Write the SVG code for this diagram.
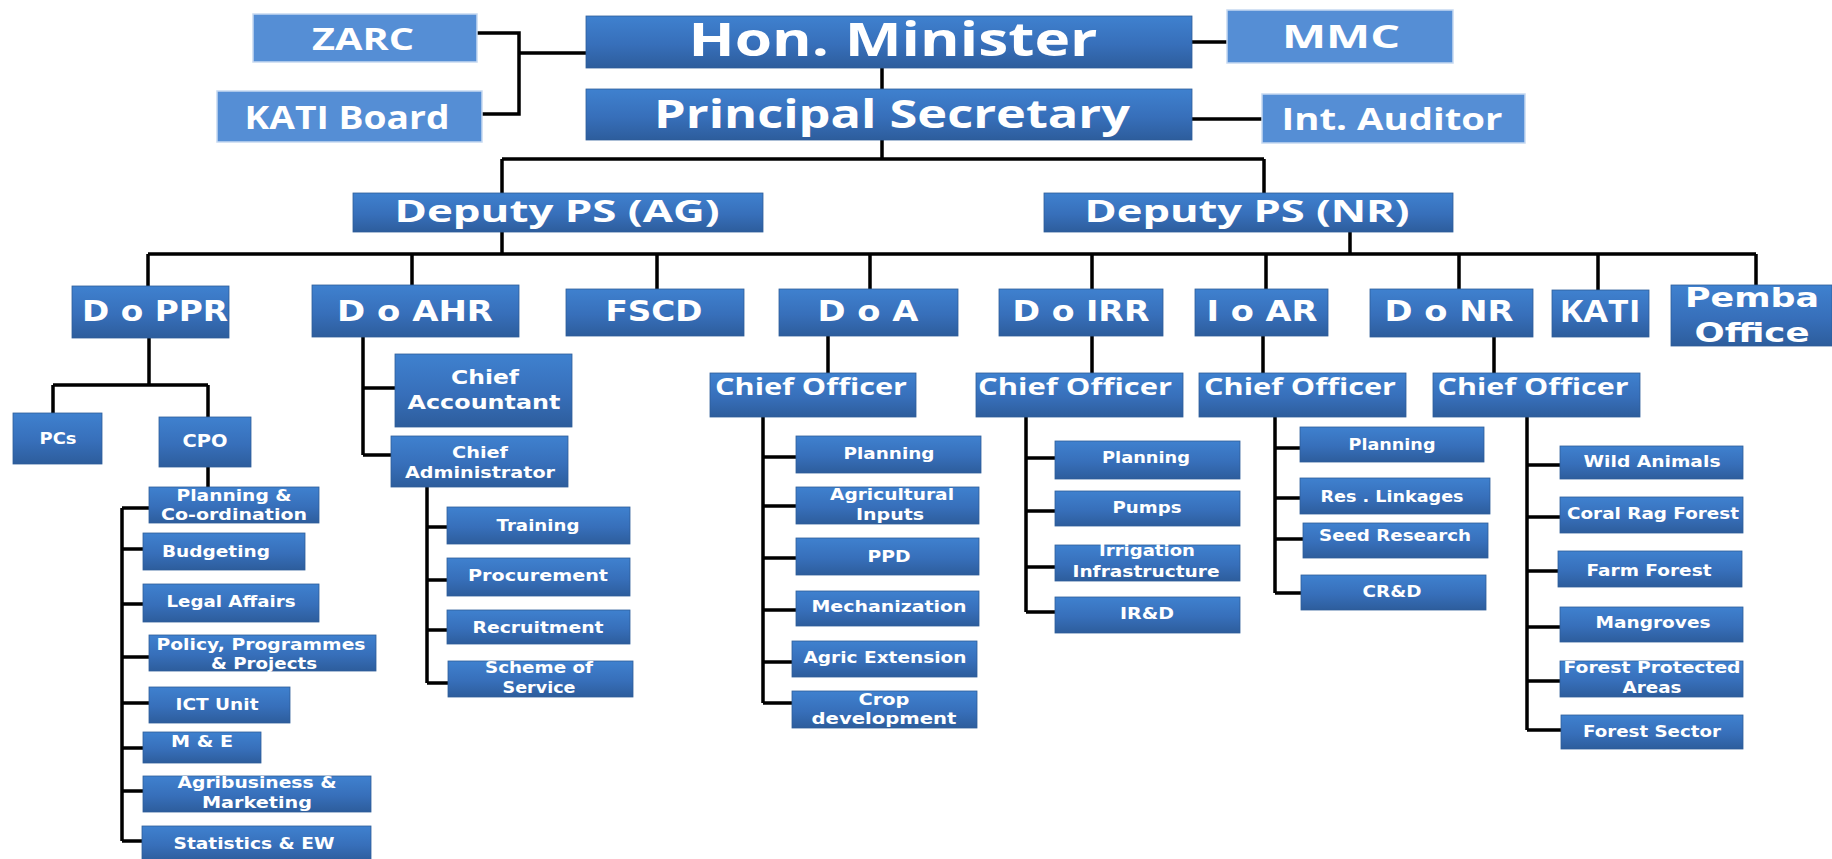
<svg xmlns="http://www.w3.org/2000/svg" width="1832" height="859" viewBox="0 0 1832 859">
<defs>
<linearGradient id="g" x1="0" y1="0" x2="0" y2="1">
<stop offset="0" stop-color="#3f81cf"/>
<stop offset="0.55" stop-color="#376fba"/>
<stop offset="1" stop-color="#2d5d9c"/>
</linearGradient>
<style>
.b{fill:url(#g);stroke:#2f5e9a;stroke-width:0.8}
.s{fill:#558ed5;stroke:#c6d9f1;stroke-width:1.5}
.t{font-family:"Open Sans","DejaVu Sans",sans-serif;font-weight:bold;fill:#fff;text-anchor:middle}
.v{font-family:"DejaVu Sans",Verdana,sans-serif;font-weight:bold;fill:#fff;text-anchor:middle}
.c path{fill:none;stroke:#000;stroke-width:3.5}
</style>
</defs>
<rect width="1832" height="859" fill="#fff"/>

<g class="c" id="connectors">
<path d="M477,33 H519 V114 H482 M519,53 H586"/>
<path d="M1192,42 H1227 M1192,119 H1262"/>
<path d="M882,68 V89 M882,140 V159 M502,159 H1264 M502,159 V193 M1264,159 V193"/>
<path d="M502,232 V254 M1350,232 V254 M148,254 H1756"/>
<path d="M148,254 V286 M412,254 V285 M657,254 V289 M870,254 V289 M1092,254 V289 M1266,254 V289 M1459,254 V289 M1598,254 V290 M1756,254 V285"/>
<path d="M149,338 V385 M53,385 H208 M53,385 V413 M208,385 V417 M208,467 V487"/>
<path d="M122,508 V841 M122,508 H149 M122,549 H143 M122,604 H143 M122,657 H149 M122,703 H149 M122,748 H143 M122,791 H143 M122,841 H142"/>
<path d="M363,337 V455 M363,388 H395 M363,455 H391 M427,487 V683 M427,527 H447 M427,580 H447 M427,630 H447 M427,683 H448"/>
<path d="M828,336 V373 M763,417 V703 M763,457 H796 M763,506 H796 M763,558 H796 M763,610 H796 M763,662 H792 M763,703 H792"/>
<path d="M1092,336 V373 M1026,417 V612 M1026,458 H1055 M1026,511 H1055 M1026,567 H1055 M1026,612 H1055"/>
<path d="M1263,336 V373 M1275,417 V593 M1275,448 H1300 M1275,498 H1300 M1275,539 H1303 M1275,593 H1301"/>
<path d="M1494,337 V373 M1527,417 V730 M1527,465 H1560 M1527,517 H1560 M1527,571 H1558 M1527,627 H1560 M1527,681 H1560 M1527,730 H1561"/>
</g>

<g id="zarc"><rect class="s" x="253" y="14" width="224" height="48"/><text class="t" x="363" y="50" font-size="31" textLength="102" lengthAdjust="spacingAndGlyphs">ZARC</text></g>
<g id="kati-board"><rect class="s" x="217" y="91" width="265" height="51"/><text class="t" x="347" y="129" font-size="32" textLength="205" lengthAdjust="spacingAndGlyphs">KATI Board</text></g>
<g id="minister"><rect class="b" x="586" y="16" width="606" height="52"/><text class="t" x="893" y="56" font-size="46" textLength="409" lengthAdjust="spacingAndGlyphs">Hon. Minister</text></g>
<g id="mmc"><rect class="s" x="1227" y="10" width="226" height="53"/><text class="t" x="1341" y="48" font-size="32" textLength="118" lengthAdjust="spacingAndGlyphs">MMC</text></g>
<g id="ps"><rect class="b" x="586" y="89" width="606" height="51"/><text class="t" x="892" y="128" font-size="39" textLength="476" lengthAdjust="spacingAndGlyphs">Principal Secretary</text></g>
<g id="auditor"><rect class="s" x="1262" y="94" width="263" height="49"/><text class="t" x="1392" y="130" font-size="31" textLength="221" lengthAdjust="spacingAndGlyphs">Int. Auditor</text></g>

<g id="dps-ag"><rect class="b" x="353" y="193" width="410" height="39"/><text class="t" x="557" y="222" font-size="31" textLength="325" lengthAdjust="spacingAndGlyphs">Deputy PS (AG)</text></g>
<g id="dps-nr"><rect class="b" x="1044" y="193" width="409" height="39"/><text class="t" x="1247" y="222" font-size="31" textLength="325" lengthAdjust="spacingAndGlyphs">Deputy PS (NR)</text></g>

<g id="doppr"><rect class="b" x="72" y="286" width="157" height="52"/><text class="v" x="155" y="321" font-size="28" textLength="146" lengthAdjust="spacingAndGlyphs">D o PPR</text></g>
<g id="doahr"><rect class="b" x="312" y="285" width="207" height="52"/><text class="v" x="415" y="321" font-size="28" textLength="156" lengthAdjust="spacingAndGlyphs">D o AHR</text></g>
<g id="fscd"><rect class="b" x="566" y="289" width="178" height="47"/><text class="v" x="654" y="321" font-size="28" textLength="97" lengthAdjust="spacingAndGlyphs">FSCD</text></g>
<g id="doa"><rect class="b" x="779" y="289" width="179" height="47"/><text class="v" x="868" y="321" font-size="28" textLength="101" lengthAdjust="spacingAndGlyphs">D o A</text></g>
<g id="doirr"><rect class="b" x="999" y="289" width="164" height="47"/><text class="v" x="1081" y="321" font-size="28" textLength="137" lengthAdjust="spacingAndGlyphs">D o IRR</text></g>
<g id="ioar"><rect class="b" x="1195" y="289" width="133" height="47"/><text class="v" x="1262" y="321" font-size="28" textLength="111" lengthAdjust="spacingAndGlyphs">I o AR</text></g>
<g id="donr"><rect class="b" x="1370" y="289" width="163" height="48"/><text class="v" x="1449" y="321" font-size="28" textLength="129" lengthAdjust="spacingAndGlyphs">D o NR</text></g>
<g id="kati"><rect class="b" x="1552" y="290" width="97" height="47"/><text class="t" x="1600" y="322" font-size="30" textLength="81" lengthAdjust="spacingAndGlyphs">KATI</text></g>
<g id="pemba"><rect class="b" x="1671" y="285" width="161" height="61"/><text class="v" x="1752" y="307" font-size="27" textLength="134" lengthAdjust="spacingAndGlyphs">Pemba</text><text class="v" x="1752" y="342" font-size="27" textLength="115" lengthAdjust="spacingAndGlyphs">Office</text></g>

<g id="pcs"><rect class="b" x="13" y="413" width="89" height="51"/><text class="v" x="58" y="444" font-size="15" textLength="37" lengthAdjust="spacingAndGlyphs">PCs</text></g>
<g id="cpo"><rect class="b" x="159" y="417" width="92" height="50"/><text class="v" x="205" y="447" font-size="17" textLength="45" lengthAdjust="spacingAndGlyphs">CPO</text></g>
<g id="plan-coord"><rect class="b" x="149" y="487" width="170" height="36"/><text class="v" x="234" y="501" font-size="15" textLength="115" lengthAdjust="spacingAndGlyphs">Planning &amp;</text><text class="v" x="234" y="520" font-size="15" textLength="146" lengthAdjust="spacingAndGlyphs">Co-ordination</text></g>
<g id="budgeting"><rect class="b" x="143" y="533" width="162" height="37"/><text class="v" x="216" y="557" font-size="15" textLength="108" lengthAdjust="spacingAndGlyphs">Budgeting</text></g>
<g id="legal"><rect class="b" x="143" y="584" width="176" height="38"/><text class="v" x="231" y="607" font-size="15" textLength="129" lengthAdjust="spacingAndGlyphs">Legal Affairs</text></g>
<g id="policy"><rect class="b" x="149" y="635" width="227" height="36"/><text class="v" x="261" y="650" font-size="15" textLength="209" lengthAdjust="spacingAndGlyphs">Policy, Programmes</text><text class="v" x="264" y="669" font-size="15" textLength="106" lengthAdjust="spacingAndGlyphs">&amp; Projects</text></g>
<g id="ict"><rect class="b" x="149" y="687" width="141" height="36"/><text class="v" x="217" y="710" font-size="15" textLength="83" lengthAdjust="spacingAndGlyphs">ICT Unit</text></g>
<g id="me"><rect class="b" x="143" y="732" width="118" height="31"/><text class="v" x="202" y="747" font-size="15" textLength="62" lengthAdjust="spacingAndGlyphs">M &amp; E</text></g>
<g id="agribusiness"><rect class="b" x="143" y="776" width="228" height="36"/><text class="v" x="257" y="788" font-size="15" textLength="159" lengthAdjust="spacingAndGlyphs">Agribusiness &amp;</text><text class="v" x="257" y="808" font-size="15" textLength="110" lengthAdjust="spacingAndGlyphs">Marketing</text></g>
<g id="statistics"><rect class="b" x="142" y="826" width="229" height="35"/><text class="v" x="254" y="849" font-size="15" textLength="161" lengthAdjust="spacingAndGlyphs">Statistics &amp; EW</text></g>

<g id="chief-accountant"><rect class="b" x="395" y="354" width="177" height="73"/><text class="v" x="485" y="384" font-size="19" textLength="68" lengthAdjust="spacingAndGlyphs">Chief</text><text class="v" x="484" y="409" font-size="19" textLength="153" lengthAdjust="spacingAndGlyphs">Accountant</text></g>
<g id="chief-admin"><rect class="b" x="391" y="436" width="177" height="51"/><text class="v" x="480" y="458" font-size="16" textLength="56" lengthAdjust="spacingAndGlyphs">Chief</text><text class="v" x="480" y="478" font-size="16" textLength="150" lengthAdjust="spacingAndGlyphs">Administrator</text></g>
<g id="training"><rect class="b" x="447" y="507" width="183" height="37"/><text class="v" x="538" y="531" font-size="15" textLength="83" lengthAdjust="spacingAndGlyphs">Training</text></g>
<g id="procurement"><rect class="b" x="447" y="558" width="183" height="38"/><text class="v" x="538" y="581" font-size="15" textLength="140" lengthAdjust="spacingAndGlyphs">Procurement</text></g>
<g id="recruitment"><rect class="b" x="447" y="610" width="183" height="34"/><text class="v" x="538" y="633" font-size="15" textLength="131" lengthAdjust="spacingAndGlyphs">Recruitment</text></g>
<g id="scheme"><rect class="b" x="448" y="661" width="185" height="36"/><text class="v" x="539" y="673" font-size="15" textLength="108" lengthAdjust="spacingAndGlyphs">Scheme of</text><text class="v" x="539" y="693" font-size="15" textLength="73" lengthAdjust="spacingAndGlyphs">Service</text></g>

<g id="co-doa"><rect class="b" x="710" y="373" width="206" height="44"/><text class="t" x="811" y="395" font-size="24" textLength="192" lengthAdjust="spacingAndGlyphs">Chief Officer</text></g>
<g id="doa-planning"><rect class="b" x="796" y="436" width="185" height="37"/><text class="v" x="889" y="459" font-size="15" textLength="91" lengthAdjust="spacingAndGlyphs">Planning</text></g>
<g id="agri-inputs"><rect class="b" x="796" y="487" width="183" height="37"/><text class="v" x="892" y="500" font-size="15" textLength="124" lengthAdjust="spacingAndGlyphs">Agricultural</text><text class="v" x="890" y="520" font-size="15" textLength="68" lengthAdjust="spacingAndGlyphs">Inputs</text></g>
<g id="ppd"><rect class="b" x="796" y="538" width="183" height="37"/><text class="v" x="889" y="562" font-size="15" textLength="43" lengthAdjust="spacingAndGlyphs">PPD</text></g>
<g id="mechanization"><rect class="b" x="796" y="591" width="183" height="35"/><text class="v" x="889" y="612" font-size="15" textLength="155" lengthAdjust="spacingAndGlyphs">Mechanization</text></g>
<g id="agric-ext"><rect class="b" x="792" y="641" width="185" height="36"/><text class="v" x="885" y="663" font-size="15" textLength="163" lengthAdjust="spacingAndGlyphs">Agric Extension</text></g>
<g id="crop-dev"><rect class="b" x="792" y="691" width="185" height="37"/><text class="v" x="884" y="705" font-size="15" textLength="51" lengthAdjust="spacingAndGlyphs">Crop</text><text class="v" x="884" y="724" font-size="15" textLength="145" lengthAdjust="spacingAndGlyphs">development</text></g>

<g id="co-irr"><rect class="b" x="976" y="373" width="207" height="44"/><text class="t" x="1075" y="395" font-size="24" textLength="194" lengthAdjust="spacingAndGlyphs">Chief Officer</text></g>
<g id="irr-planning"><rect class="b" x="1055" y="441" width="185" height="38"/><text class="v" x="1146" y="463" font-size="15" textLength="88" lengthAdjust="spacingAndGlyphs">Planning</text></g>
<g id="pumps"><rect class="b" x="1055" y="491" width="185" height="35"/><text class="v" x="1147" y="513" font-size="15" textLength="69" lengthAdjust="spacingAndGlyphs">Pumps</text></g>
<g id="irr-infra"><rect class="b" x="1055" y="545" width="185" height="36"/><text class="v" x="1147" y="556" font-size="15" textLength="96" lengthAdjust="spacingAndGlyphs">Irrigation</text><text class="v" x="1146" y="577" font-size="15" textLength="147" lengthAdjust="spacingAndGlyphs">Infrastructure</text></g>
<g id="ird"><rect class="b" x="1055" y="597" width="185" height="36"/><text class="v" x="1147" y="619" font-size="15" textLength="54" lengthAdjust="spacingAndGlyphs">IR&amp;D</text></g>

<g id="co-ioar"><rect class="b" x="1199" y="373" width="207" height="44"/><text class="t" x="1300" y="395" font-size="24" textLength="192" lengthAdjust="spacingAndGlyphs">Chief Officer</text></g>
<g id="ioar-planning"><rect class="b" x="1300" y="427" width="184" height="35"/><text class="v" x="1392" y="450" font-size="15" textLength="87" lengthAdjust="spacingAndGlyphs">Planning</text></g>
<g id="res-link"><rect class="b" x="1300" y="478" width="190" height="36"/><text class="v" x="1392" y="502" font-size="15" textLength="143" lengthAdjust="spacingAndGlyphs">Res . Linkages</text></g>
<g id="seed"><rect class="b" x="1303" y="523" width="185" height="35"/><text class="v" x="1395" y="541" font-size="15" textLength="152" lengthAdjust="spacingAndGlyphs">Seed Research</text></g>
<g id="crd"><rect class="b" x="1301" y="575" width="185" height="35"/><text class="v" x="1392" y="597" font-size="15" textLength="59" lengthAdjust="spacingAndGlyphs">CR&amp;D</text></g>

<g id="co-nr"><rect class="b" x="1433" y="373" width="207" height="44"/><text class="t" x="1533" y="395" font-size="24" textLength="191" lengthAdjust="spacingAndGlyphs">Chief Officer</text></g>
<g id="wild"><rect class="b" x="1560" y="446" width="183" height="33"/><text class="v" x="1652" y="467" font-size="15" textLength="137" lengthAdjust="spacingAndGlyphs">Wild Animals</text></g>
<g id="coral"><rect class="b" x="1560" y="497" width="183" height="36"/><text class="v" x="1653" y="519" font-size="15" textLength="172" lengthAdjust="spacingAndGlyphs">Coral Rag  Forest</text></g>
<g id="farm"><rect class="b" x="1558" y="551" width="184" height="36"/><text class="v" x="1649" y="576" font-size="15" textLength="125" lengthAdjust="spacingAndGlyphs">Farm Forest</text></g>
<g id="mangroves"><rect class="b" x="1560" y="607" width="183" height="35"/><text class="v" x="1653" y="628" font-size="15" textLength="115" lengthAdjust="spacingAndGlyphs">Mangroves</text></g>
<g id="fpa"><rect class="b" x="1560" y="661" width="183" height="36"/><text class="v" x="1652" y="673" font-size="15" textLength="177" lengthAdjust="spacingAndGlyphs">Forest Protected</text><text class="v" x="1652" y="693" font-size="15" textLength="59" lengthAdjust="spacingAndGlyphs">Areas</text></g>
<g id="forest-sector"><rect class="b" x="1561" y="715" width="182" height="34"/><text class="v" x="1652" y="737" font-size="15" textLength="138" lengthAdjust="spacingAndGlyphs">Forest Sector</text></g>
</svg>
